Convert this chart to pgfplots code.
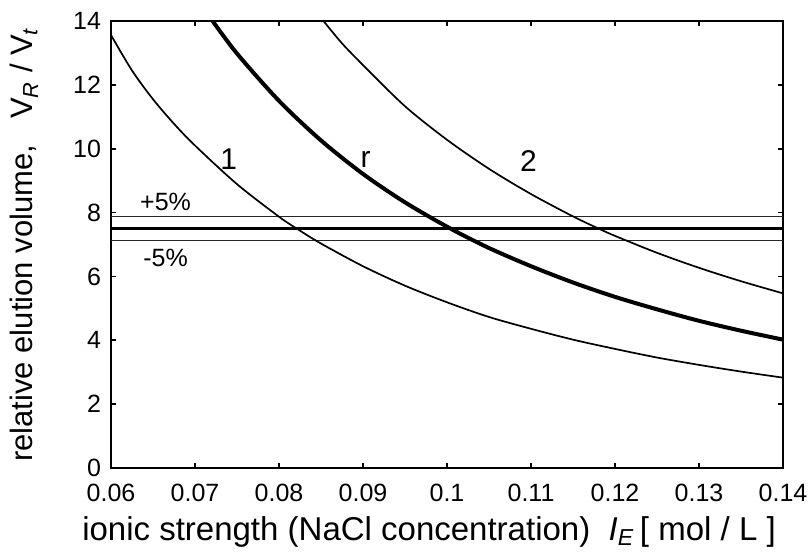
\documentclass[border=0pt]{standalone}
\usepackage{fontspec}
\setmainfont{Liberation Sans}
\usepackage{pgfplots}
\pgfplotsset{compat=1.18}
\usetikzlibrary{calc}

% curves: relative elution volume vs ionic strength
\pgfplotstableread{
x y
0.0600 13.56
0.0625 12.45
0.0650 11.55
0.0675 10.78
0.0700 10.10
0.0750 8.89
0.0800 7.87
0.0821 7.50
0.0850 7.03
0.0900 6.32
0.0950 5.71
0.1000 5.19
0.1050 4.73
0.1100 4.36
0.1150 4.02
0.1200 3.73
0.1250 3.46
0.1300 3.23
0.1350 3.02
0.1400 2.83
}\curveone
\pgfplotstableread{
x y
0.0721 14.00
0.0750 12.98
0.0800 11.50
0.0850 10.26
0.0900 9.21
0.0950 8.32
0.1004 7.50
0.1050 6.89
0.1100 6.32
0.1150 5.81
0.1200 5.36
0.1250 4.97
0.1300 4.61
0.1350 4.30
0.1400 4.02
}\curver
\pgfplotstableread{
x y
0.0853 14.00
0.0875 13.30
0.0900 12.62
0.0950 11.33
0.1000 10.28
0.1050 9.37
0.1100 8.58
0.1150 7.88
0.1182 7.48
0.1200 7.27
0.1250 6.74
0.1300 6.27
0.1350 5.85
0.1400 5.47
}\curvetwo

\begin{document}
\begin{tikzpicture}
\begin{axis}[
  scale only axis, width=336pt, height=223.5pt,
  xmin=0.06, xmax=0.14, ymin=0, ymax=14,
  xtick={0.06,0.07,0.08,0.09,0.1,0.11,0.12,0.13,0.14},
  xticklabels={0.06,0.07,0.08,0.09,0.1,0.11,0.12,0.13,0.14},
  scaled x ticks=false,
  ytick={0,2,4,6,8,10,12,14},
  /pgf/number format/assume math mode=true,
  tick align=inside, major tick length=2.5pt,
  axis line style={line width=1pt}, tick style={line width=0.8pt,black},
  tick label style={font=\fontsize{12.5}{14}\selectfont},
  xticklabel style={yshift=-4.5pt},
  yticklabel style={xshift=-1.5pt},
  xlabel={ionic strength (NaCl concentration)\ \ \textit{I}\textsubscript{\textit{E}}\,[ mol / L ]},
  ylabel={relative elution volume,\ \ \ V\textsubscript{\textit{R}} / V\textsubscript{\textit{t}}},
  xlabel style={font=\fontsize{16.5}{18}\selectfont, at={(axis description cs:0.5,0)},
    anchor=base, yshift=-36pt, xshift=-9pt},
  ylabel style={font=\fontsize{15.5}{18}\selectfont, at={(axis description cs:0,0.5)},
    anchor=base, yshift=39pt},
  clip=true,
]
  \addplot[black!85, line width=0.5pt] coordinates {(0.06,7.875)(0.14,7.875)};
  \addplot[black!85, line width=0.5pt] coordinates {(0.06,7.125)(0.14,7.125)};
  \addplot[black, line width=1.5pt] coordinates {(0.06,7.5)(0.14,7.5)};
  \addplot[black, line width=0.85pt, smooth] table {\curveone};
  \addplot[black, line width=2pt, smooth] table {\curver};
  \addplot[black, line width=0.85pt, smooth] table {\curvetwo};
  \node[font=\fontsize{15}{17}\selectfont] at (axis cs:0.0740,9.68) {1};
  \node[font=\fontsize{15}{17}\selectfont] at (axis cs:0.0903,9.68) {r};
  \node[font=\fontsize{15}{17}\selectfont] at (axis cs:0.1097,9.60) {2};
  \node[font=\fontsize{12.5}{14}\selectfont] at (axis cs:0.0665,8.32) {+5\%};
  \node[font=\fontsize{12.5}{14}\selectfont] at (axis cs:0.0665,6.58) {-5\%};
\end{axis}
\pgfresetboundingbox
\path ($(current axis.south west)+(-55.5pt,-42pt)$) rectangle ($(current axis.north east)+(14pt,10.5pt)$);
\end{tikzpicture}
\end{document}
